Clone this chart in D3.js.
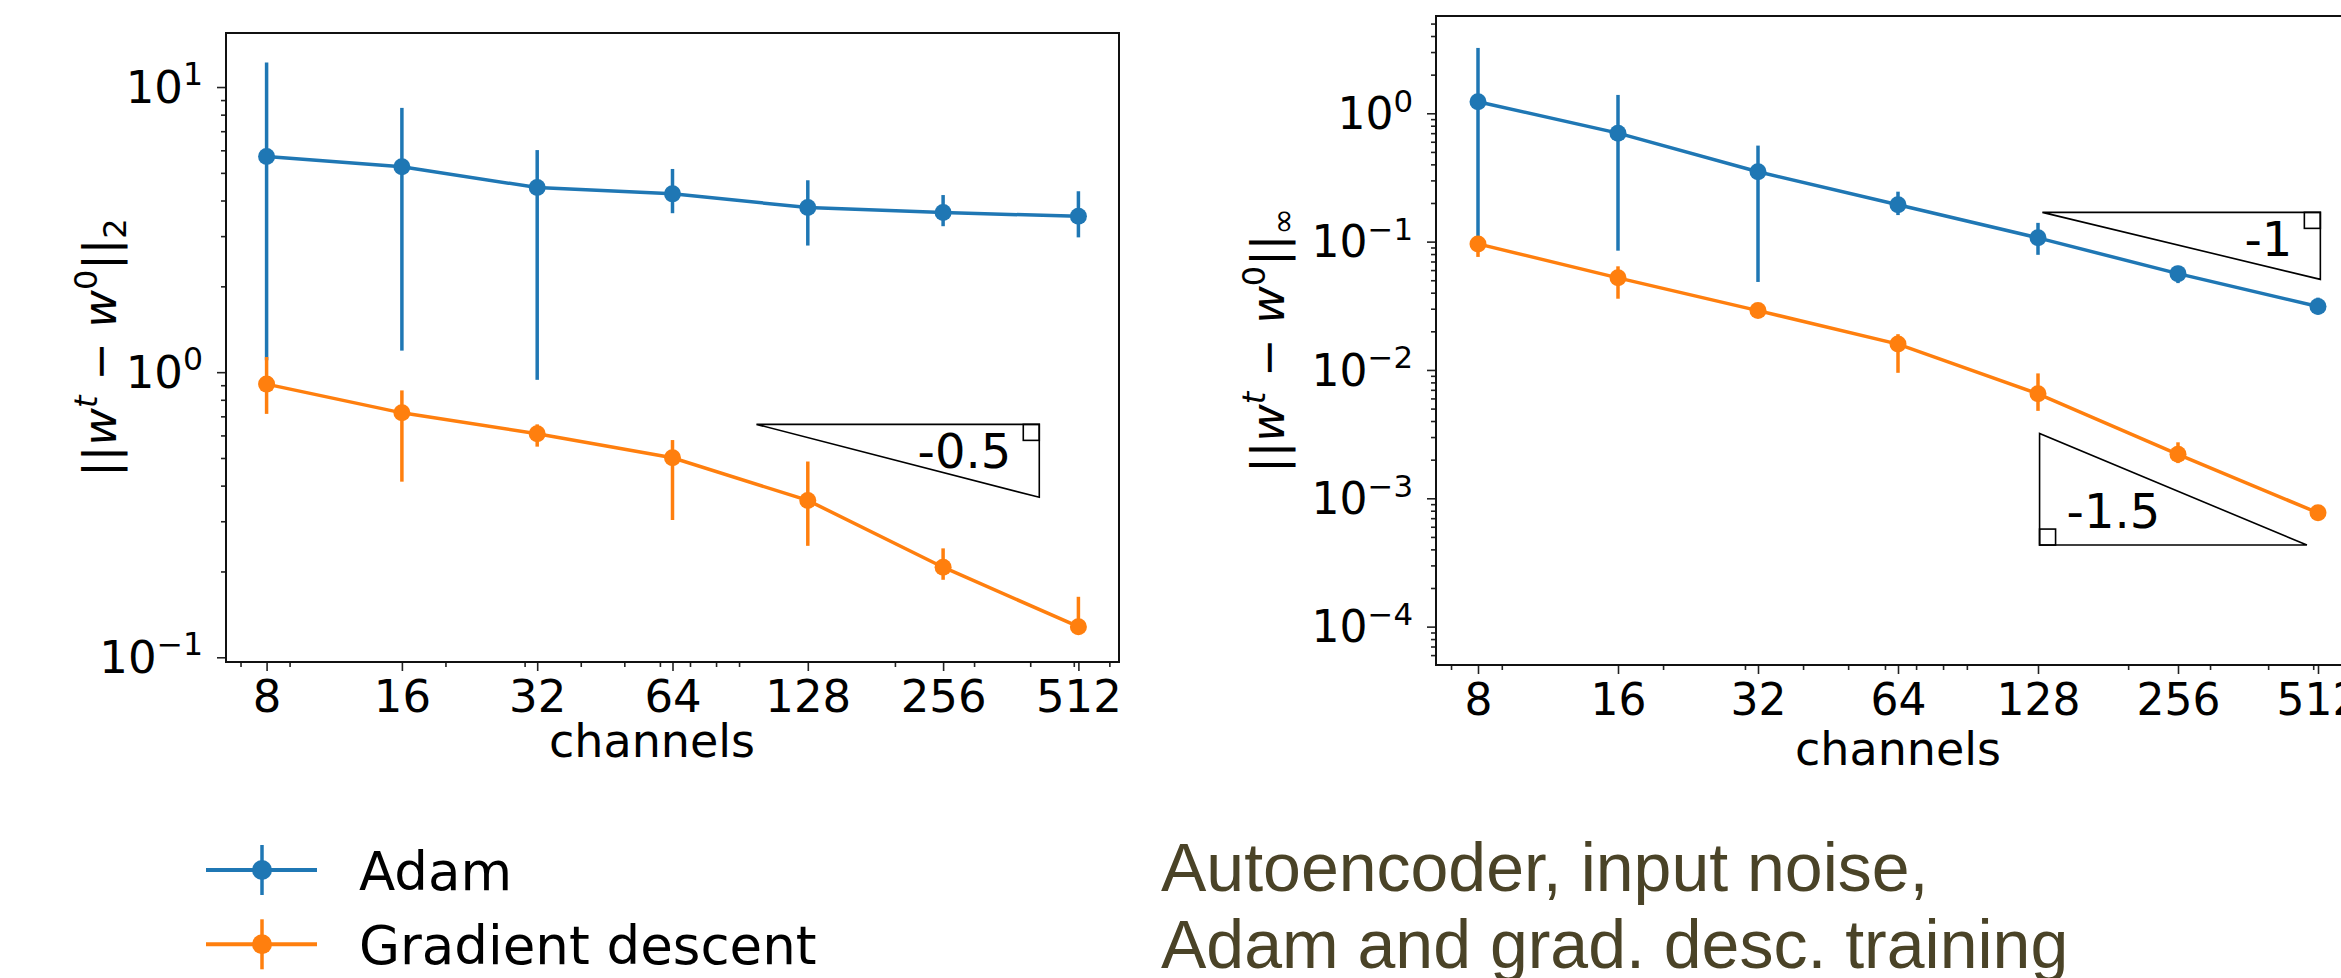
<!DOCTYPE html>
<html lang="en">
<head>
  <meta charset="UTF-8">
  <title>Autoencoder, input noise</title>
  <script src="https://d3js.org/d3.v7.min.js"></script>
  <style>
    body { margin: 0; background: #ffffff; }
    svg { display: block; }
    text { font-family: 'DejaVu Sans', sans-serif; fill: #000; }
    .caption { font-family: 'Liberation Sans', Arial, sans-serif; fill: #4a4327; }
  </style>
</head>
<body>
<svg width="2341" height="978"></svg>
<script>
// ---- data ----
const channels = [8, 16, 32, 64, 128, 256, 512];

// left panel: ||w^t - w^0||_2
const adamL2   = [5.71, 5.25, 4.44, 4.22, 3.78, 3.63, 3.52];
const adamL2Lo = [1.10, 1.19, 0.94, 3.61, 2.78, 3.25, 2.97];
const adamL2Hi = [12.2, 8.45, 6.01, 5.16, 4.71, 4.18, 4.31];
const gdL2     = [0.908, 0.72, 0.608, 0.501, 0.355, 0.207, 0.128];
const gdL2Lo   = [0.714, 0.413, 0.548, 0.303, 0.246, 0.187, 0.122];
const gdL2Hi   = [1.13, 0.863, 0.656, 0.578, 0.486, 0.241, 0.163];

// right panel: ||w^t - w^0||_inf
const adamInf   = [1.23, 0.70, 0.35, 0.194, 0.107, 0.0563, 0.0312];
const adamInfLo = [0.10, 0.085, 0.0485, 0.161, 0.0789, 0.0475, 0.0271];
const adamInfHi = [3.23, 1.39, 0.56, 0.245, 0.14, 0.0648, 0.0366];
const gdInf     = [0.096, 0.0522, 0.029, 0.0159, 0.00652, 0.0022, 0.00077];
const gdInfLo   = [0.076, 0.0359, 0.0259, 0.0095, 0.0048, 0.00188, 0.00072];
const gdInfHi   = [0.105, 0.0642, 0.0327, 0.019, 0.0094, 0.00273, 0.00082];

const seriesNames = ["Adam", "Gradient descent"];
const seriesColors = ["#1f77b4", "#ff7f0e"];

// slope triangles, in data units
const slopesL2 = [
  { label: "-0.5", x0: 98.4, x1: 419, yTop: 0.656, yBot: 0.364, corner: "topright" }
];
const slopesInf = [
  { label: "-1", x0: 130.8, x1: 518, yTop: 0.169, yBot: 0.0508, corner: "topright" },
  { label: "-1.5", x0: 129, x1: 484.6, yTop: 0.0032, yBot: 0.000432, corner: "bottomleft" }
];

const captionLines = ["Autoencoder, input noise,", "Adam and grad. desc. training"];

// ---- drawing ----
const svg = d3.select("svg");
const xDomain = [Math.pow(2, 2.7), Math.pow(2, 9.3)];

function minorTicks(lo, hi) {
  const out = [];
  for (let e = -6; e <= 3; e++) {
    for (let m = 2; m <= 9; m++) {
      const v = m * Math.pow(10, e);
      if (v >= lo && v <= hi) out.push(v);
    }
  }
  return out;
}

function drawPanel(p) {
  const x = d3.scaleLog().base(2).domain(xDomain).range([p.left, p.right]);
  const y = d3.scaleLog().domain(p.yDomain).range([p.bottom, p.top]);
  const g = svg.append("g");

  // minor ticks
  g.append("g")
    .attr("transform", `translate(0,${p.bottom})`)
    .call(d3.axisBottom(x).tickValues(minorTicks(xDomain[0], xDomain[1]).filter(v => !channels.includes(v)))
      .tickSize(5).tickSizeOuter(0).tickFormat(""));
  g.append("g")
    .attr("transform", `translate(${p.left},0)`)
    .call(d3.axisLeft(y).tickValues(minorTicks(p.yDomain[0], p.yDomain[1]))
      .tickSize(5).tickSizeOuter(0).tickFormat(""));

  // major ticks
  const xa = g.append("g")
    .attr("transform", `translate(0,${p.bottom})`)
    .call(d3.axisBottom(x).tickValues(channels).tickFormat(d3.format("d"))
      .tickSize(9).tickSizeOuter(0).tickPadding(p.xPad));
  xa.selectAll("text").style("font-size", p.tickFont + "px").attr("fill", "#000");

  g.append("g")
    .attr("transform", `translate(${p.left},0)`)
    .call(d3.axisLeft(y).tickValues(p.yTicks).tickSize(9).tickSizeOuter(0).tickFormat(""));

  g.selectAll(".domain").remove();
  g.selectAll(".tick line").attr("stroke", "#222").attr("stroke-width", 1.6);

  // y tick labels 10^k
  p.yTicks.forEach(v => {
    const k = Math.round(Math.log10(v));
    const t = g.append("text")
      .attr("x", p.left - 23)
      .attr("y", y(v) + p.tickFont * 0.36)
      .attr("text-anchor", "end")
      .style("font-size", p.tickFont + "px");
    t.append("tspan").text("10");
    t.append("tspan")
      .attr("dy", -p.tickFont * 0.4)
      .style("font-size", (p.tickFont * 0.7) + "px")
      .text(String(k).replace("-", "\u2212"));
  });

  // frame
  g.append("rect")
    .attr("x", p.left).attr("y", p.top)
    .attr("width", p.right - p.left).attr("height", p.bottom - p.top)
    .attr("fill", "none").attr("stroke", "#111").attr("stroke-width", 2);

  // series
  p.series.forEach((s, si) => {
    const col = seriesColors[si];
    g.append("path")
      .datum(channels)
      .attr("fill", "none")
      .attr("stroke", col)
      .attr("stroke-width", 3.5)
      .attr("d", d3.line().x(c => x(c)).y((c, i) => y(s.mid[i])));
    g.selectAll(null)
      .data(channels)
      .join("line")
      .attr("x1", c => x(c)).attr("x2", c => x(c))
      .attr("y1", (c, i) => y(s.lo[i])).attr("y2", (c, i) => y(s.hi[i]))
      .attr("stroke", col).attr("stroke-width", 3.5);
    g.selectAll(null)
      .data(channels)
      .join("circle")
      .attr("cx", c => x(c)).attr("cy", (c, i) => y(s.mid[i]))
      .attr("r", 8.5).attr("fill", col);
  });

  // slope triangles
  p.slopes.forEach(s => {
    const xa0 = x(s.x0), xa1 = x(s.x1), yt = y(s.yTop), yb = y(s.yBot);
    let pts, sq, tx, ty, anchor;
    if (s.corner === "topright") {
      pts = [[xa0, yt], [xa1, yt], [xa1, yb]];
      sq = [xa1 - 16, yt];
      tx = xa1 - 28; ty = yt + 44; anchor = "end";
    } else {
      pts = [[xa0, yt], [xa0, yb], [xa1, yb]];
      sq = [xa0, yb - 16];
      tx = xa0 + 27; ty = yb - 17; anchor = "start";
    }
    g.append("path")
      .attr("d", "M" + pts.join("L") + "Z")
      .attr("fill", "none").attr("stroke", "#000").attr("stroke-width", 1.6);
    g.append("rect")
      .attr("x", sq[0]).attr("y", sq[1]).attr("width", 16).attr("height", 16)
      .attr("fill", "none").attr("stroke", "#000").attr("stroke-width", 1.6);
    g.append("text")
      .attr("x", tx).attr("y", ty)
      .attr("text-anchor", anchor)
      .style("font-size", "48px")
      .text(s.label);
  });

  // x label
  g.append("text")
    .attr("x", p.xLabelX).attr("y", p.xLabelY)
    .attr("text-anchor", "middle")
    .style("font-size", "46px")
    .text("channels");

  // y label ||w^t - w^0||_sub
  const yl = g.append("text")
    .attr("transform", `translate(${p.yLabelX},${(p.top + p.bottom) / 2}) rotate(-90)`)
    .attr("text-anchor", "middle")
    .style("font-size", "46px");
  yl.append("tspan").text("||");
  yl.append("tspan").style("font-style", "italic").text("w");
  yl.append("tspan").attr("dy", -19).style("font-size", "32px").style("font-style", "italic").text("t");
  yl.append("tspan").attr("dy", 19).text(" \u2212 ");
  yl.append("tspan").style("font-style", "italic").text("w");
  yl.append("tspan").attr("dy", -19).style("font-size", "32px").text("0");
  yl.append("tspan").attr("dy", 19).text("||");
  yl.append("tspan").attr("dy", 10).style("font-size", "32px").text(p.sub);
}

drawPanel({
  left: 226, right: 1119, top: 33, bottom: 662,
  yDomain: [Math.pow(10, -1.0165), Math.pow(10, 1.1895)],
  yTicks: [0.1, 1, 10],
  tickFont: 45, xPad: 9,
  xLabelX: 652, xLabelY: 757,
  yLabelX: 116, sub: "2",
  series: [
    { mid: adamL2, lo: adamL2Lo, hi: adamL2Hi },
    { mid: gdL2, lo: gdL2Lo, hi: gdL2Hi }
  ],
  slopes: slopesL2
});

drawPanel({
  left: 1436, right: 2360, top: 16, bottom: 665,
  yDomain: [Math.pow(10, -4.299), Math.pow(10, 0.758)],
  yTicks: [1e-4, 1e-3, 1e-2, 1e-1, 1],
  tickFont: 44, xPad: 10,
  xLabelX: 1898, xLabelY: 765,
  yLabelX: 1284, sub: "\u221e",
  series: [
    { mid: adamInf, lo: adamInfLo, hi: adamInfHi },
    { mid: gdInf, lo: gdInfLo, hi: gdInfHi }
  ],
  slopes: slopesInf
});

// legend
const legend = svg.append("g");
seriesNames.forEach((name, i) => {
  const cy = 870 + i * 74.3;
  const col = seriesColors[i];
  legend.append("line").attr("x1", 206).attr("x2", 317).attr("y1", cy).attr("y2", cy)
    .attr("stroke", col).attr("stroke-width", 4);
  legend.append("line").attr("x1", 262).attr("x2", 262).attr("y1", cy - 25).attr("y2", cy + 25)
    .attr("stroke", col).attr("stroke-width", 3.5);
  legend.append("circle").attr("cx", 262).attr("cy", cy).attr("r", 10).attr("fill", col);
  legend.append("text").attr("x", 359).attr("y", cy + 20)
    .style("font-size", "53px").text(name);
});

// caption
svg.append("g").selectAll("text")
  .data(captionLines)
  .join("text")
  .attr("class", "caption")
  .attr("x", 1161)
  .attr("y", (d, i) => 891 + i * 77)
  .style("font-size", "68px")
  .text(d => d);
</script>
</body>
</html>
